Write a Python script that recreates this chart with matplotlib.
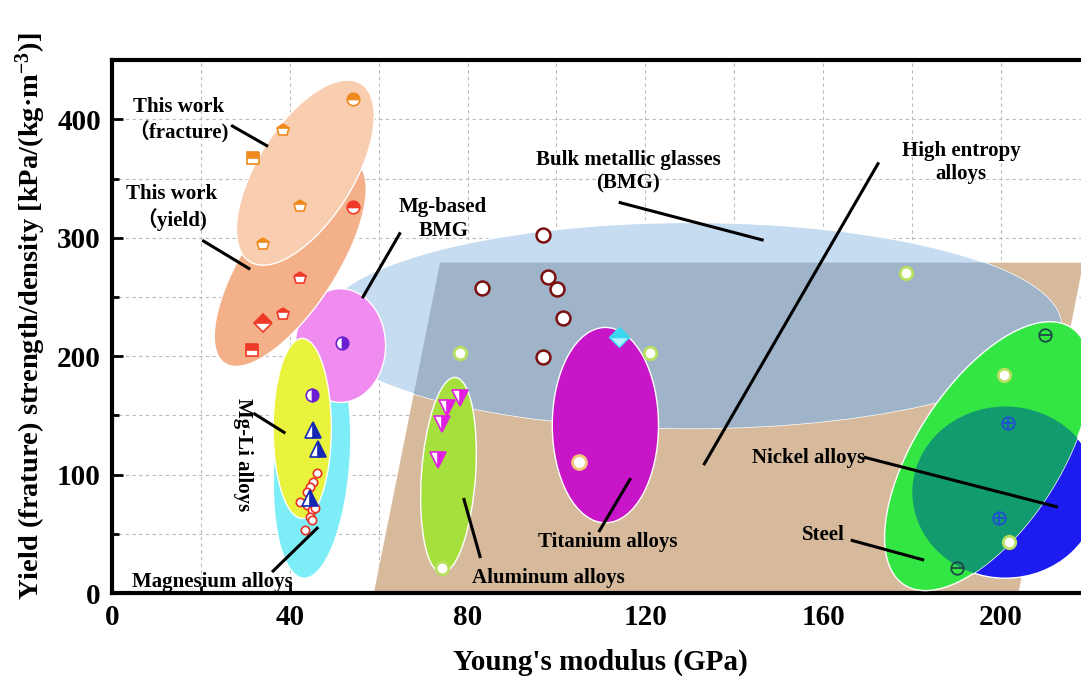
import numpy as np
import matplotlib
matplotlib.use("Agg")
import matplotlib.pyplot as plt
from matplotlib.patches import Ellipse, Polygon
from matplotlib.ticker import MultipleLocator

plt.rcParams['font.family'] = ['Liberation Serif', 'Noto Sans CJK SC']
plt.rcParams['font.weight'] = 'bold'
plt.rcParams['mathtext.fontset'] = 'custom'
plt.rcParams['mathtext.rm'] = 'Liberation Serif:bold'
plt.rcParams['mathtext.it'] = 'Liberation Serif:bold'
plt.rcParams['mathtext.bf'] = 'Liberation Serif:bold'

# This work (fracture / yield), Young's modulus (GPa) vs strength/density
frac_x = [31.8, 38.5, 54.3, 42.3, 34.0]
frac_y = [367, 391, 417, 327, 295]
frac_m = ['s', 'p', 'o', 'p', 'p']
yield_x = [54.3, 42.3, 38.5, 34.0, 31.5]
yield_y = [326, 266, 236, 228, 205]
yield_m = ['o', 'p', 'p', 'D', 's']

# literature data
mgbmg_x = [51.8, 45.0]
mgbmg_y = [211, 167]
mgli_x = [45.3, 46.4, 44.6]
mgli_y = [137.5, 122, 80]
mg_x = [46.2, 45.3, 44.6, 43.9, 42.3, 43.9, 45.0, 45.7, 44.6, 45.0, 43.5]
mg_y = [101, 94, 89.5, 85, 77, 74, 70, 72, 64, 61.6, 53]
bmg_x = [97.0, 83.3, 98.0, 100.2, 101.4, 97.0]
bmg_y = [302, 258, 267, 257, 232, 199]
al_x = [78.4, 75.4, 74.3, 73.4]
al_y = [164.5, 156, 142.6, 112]
hea_x = [78.2, 121.0, 74.3, 178.6, 200.7, 201.8]
hea_y = [202.5, 202.5, 21, 270, 184, 43]
ti_x = [105.0]
ti_y = [110.5]
ti2_x = [114.0]
ti2_y = [216]
steel_x = [210.0, 190.0]
steel_y = [218, 21]
ni_x = [201.5, 199.5]
ni_y = [143.5, 63]

fig = plt.figure(figsize=(10.81, 6.84), dpi=100)
ax = fig.add_axes([0.1036, 0.133, 0.8964, 0.779])
ax.set_xlim(0, 218)
ax.set_ylim(0, 450)

# screen aspect: pixels per y-unit over pixels per x-unit
k = (0.779 * 684 / 450) / (0.8964 * 1081 / 218)


def blob(cx, cy, a, b, ang, **kw):
    t = np.linspace(0, 2 * np.pi, 240)
    u, v = a * np.cos(t), b * np.sin(t)
    th = np.radians(ang)
    x = cx + u * np.cos(th) - v * np.sin(th)
    y = cy + (u * np.sin(th) + v * np.cos(th)) / k
    p = Polygon(np.column_stack([x, y]), closed=True, **kw)
    ax.add_patch(p)
    return p


# regions
hea = Polygon([(59, 1.5), (73.8, 279), (218.5, 279), (204, 1.5)], closed=True,
              fc='#D7BA9C', ec='none', zorder=1)
ax.add_patch(hea)
ax.add_patch(Ellipse((130.2, 226), 166.7, 174, fc='#C6DCF1', ec='white', lw=1, zorder=2))
ov = Ellipse((130.2, 226), 166.7, 174, fc='#9FB4C9', ec='none', zorder=2.1)
ax.add_patch(ov)
ov.set_clip_path(hea)

ax.add_patch(Ellipse((45, 112), 17.1, 199, angle=-1, fc='#7DEEF7', ec='white', lw=1, zorder=3))
ax.add_patch(Ellipse((51.4, 209), 20.3, 96, fc='#F08CF0', ec='white', lw=1, zorder=3.1))
blob(40.1, 279, 27, 10.4, 57, fc='#F4B088', ec='white', lw=1, zorder=3.2)
ax.add_patch(Ellipse((42.8, 139), 13.1, 152, fc='#E9F23C', ec='white', lw=1, zorder=3.3))
blob(43.5, 355, 23.6, 10.8, 58, fc='#F9CDB0', ec='white', lw=1, zorder=3.4)

ax.add_patch(Ellipse((75.7, 99.6), 12.2, 165, angle=-1, fc='#A6E03C', ec='white', lw=1, zorder=3))
ax.add_patch(Ellipse((111, 141.8), 23.9, 165, fc='#C815C8', ec='white', lw=1, zorder=3))

ni = Ellipse((201, 85), 41.9, 145, fc='#1C1CF0', ec='white', lw=1, zorder=3)
ax.add_patch(ni)
steel = blob(197, 115.6, 34.5, 16.2, 57, fc='#33E644', ec='white', lw=1, zorder=3.1)
ov2 = Ellipse((201, 85), 41.9, 145, fc='#129B6E', ec='none', zorder=3.2)
ax.add_patch(ov2)
ov2.set_clip_path(steel)

# leader lines
lines = [
    ((26.8, 395), (35.1, 377.2)),
    ((20.3, 297.9), (31.1, 273.4)),
    ((64.9, 304.6), (56.3, 249)),
    ((114, 330), (146.6, 297.9)),
    ((172.5, 363.7), (133.1, 108)),
    ((31.8, 151.9), (39, 135)),
    ((36, 17.7), (46.4, 55.7)),
    ((82.9, 29.5), (79.1, 80.2)),
    ((109.5, 51.5), (116.7, 97)),
    ((169.1, 114.8), (212.8, 72.6)),
    ((166.2, 44.7), (182.7, 27.8)),
]
for (x0, y0), (x1, y1) in lines:
    ax.plot([x0, x1], [y0, y1], color='black', lw=2.2, zorder=5, solid_capstyle='butt')

fs = 15
labels = [
    (15, 399, 'This work\n\uff08fracture)'),
    (13.3, 325.7, 'This work\n\uff08yield)'),
    (74.5, 315.6, 'Mg-based\nBMG'),
    (116.2, 356, 'Bulk metallic glasses\n(BMG)'),
    (191, 363.7, 'High entropy\nalloys'),
    (22.5, 9.3, 'Magnesium alloys'),
    (98.2, 12.7, 'Aluminum alloys'),
    (111.5, 43, 'Titanium alloys'),
    (156.8, 114, 'Nickel alloys'),
    (160, 49, 'Steel'),
]
for x, y, s in labels:
    ax.text(x, y, s, ha='center', va='center', fontsize=fs, fontweight='bold',
            linespacing=1.25, zorder=6)
ax.text(29.5, 116.5, 'Mg-Li alloys', rotation=-90, ha='center', va='center',
        fontsize=fs, fontweight='bold', zorder=6)

# markers
for x, y, m in zip(frac_x, frac_y, frac_m):
    ax.plot(x, y, marker=m, ls='none', ms=9, mfc='#F08A1E', mfcalt='white',
            mec='#F08A1E', fillstyle='top', mew=1.2, zorder=7)
for x, y, m in zip(yield_x, yield_y, yield_m):
    ax.plot(x, y, marker=m, ls='none', ms=9, mfc='#F03A28', mfcalt='white',
            mec='#F03A28', fillstyle='top', mew=1.2, zorder=7)
ax.plot(mgbmg_x, mgbmg_y, 'o', ms=9, mfc='#6A1FD0', mfcalt='white', mec='#6A1FD0',
        fillstyle='right', mew=1.2, zorder=7)
ax.plot(mgli_x, mgli_y, '^', ms=11, mfc='#1428B4', mfcalt='white', mec='#1428B4',
        fillstyle='right', mew=1.2, zorder=7)
ax.plot(mg_x, mg_y, 'o', ms=6, mfc='white', mec='#E83020', mew=1.2, zorder=6.5)
ax.plot(bmg_x, bmg_y, 'o', ms=10, mfc='white', mec='#7A1010', mew=1.8, zorder=7)
ax.plot(al_x, al_y, 'v', ms=11, mfc='#E020E0', mfcalt='white', mec='#E020E0',
        fillstyle='right', mew=1.2, zorder=7)
ax.plot(hea_x, hea_y, 'o', ms=9, mfc='white', mec='#B8E060', mew=2, zorder=7)
ax.plot(ti_x, ti_y, 'o', ms=10, mfc='white', mec='#F0C878', mew=2, zorder=7)
ax.plot(ti2_x, ti2_y, 'D', ms=10, mfc='#38D8F0', mfcalt='#B0F0FF', mec='#38D8F0',
        fillstyle='top', mew=1, zorder=7)
ax.plot(steel_x, steel_y, 'o', ms=9, mfc='none', mec='#1E4848', mew=1.3, zorder=7)
ax.plot(steel_x, steel_y, '_', ms=9, mec='#1E4848', mew=1.3, zorder=7)
ax.plot(ni_x, ni_y, 'o', ms=9, mfc='none', mec='#2050D0', mew=1.3, zorder=7)
ax.plot(ni_x, ni_y, '+', ms=9, mec='#2050D0', mew=1.3, zorder=7)

# axes styling
ax.xaxis.set_major_locator(MultipleLocator(40))
ax.xaxis.set_minor_locator(MultipleLocator(20))
ax.yaxis.set_major_locator(MultipleLocator(100))
ax.yaxis.set_minor_locator(MultipleLocator(50))
ax.grid(True, which='both', color='#BBBBBB', lw=0.8, ls=(0, (3, 3)), zorder=0)
ax.set_axisbelow(True)
ax.tick_params(which='both', direction='in', width=2, labelsize=21, pad=8)
ax.tick_params(which='major', length=8)
ax.tick_params(which='minor', length=5)
for lab in ax.get_xticklabels() + ax.get_yticklabels():
    lab.set_fontweight('bold')
for s in ['left', 'bottom', 'top']:
    ax.spines[s].set_linewidth(3)
ax.spines['right'].set_visible(False)

ax.set_xlabel("Young's modulus (GPa)", fontsize=21, fontweight='bold')
ax.xaxis.set_label_coords(0.5036, -0.105)
ax.set_ylabel("Yield (frature) strength/density [kPa/(kg\u00b7m$^{-3}$)]",
              fontsize=20.5, fontweight='bold')
ax.yaxis.set_label_coords(-0.066, 0.52)

fig.savefig('out.png', dpi=100)
